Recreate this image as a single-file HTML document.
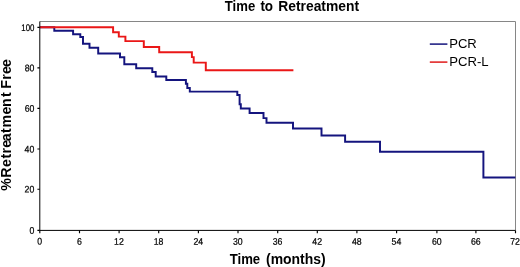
<!DOCTYPE html>
<html>
<head>
<meta charset="utf-8">
<title>Time to Retreatment</title>
<style>
html,body{margin:0;padding:0;background:#fff;}
body{width:520px;height:267px;overflow:hidden;}
svg{display:block;}
text{font-family:"Liberation Sans",Arial,sans-serif;fill:#000;}
.b{font-weight:bold;}
.t{font-size:9.6px;stroke:#000;stroke-width:0.22px;}
</style>
</head>
<body>
<svg width="520" height="267" viewBox="0 0 520 267">
<rect width="520" height="267" fill="#fff"/>
<!-- frame -->
<path d="M39.8 21.5H515.5V230.4" fill="none" stroke="#868686" stroke-width="1"/>
<!-- curves -->
<path id="blue" d="M40 27.2H54.3V30.8H73.1V34.2H80.3V36.9H83V43.8H89.5V47.7H98.2V53.5H120V57.2H124.3V64.2H136.2V68.2H152.3V72H155.7V76.4H166.3V80H185.9V83.8H187.3V87.9H189.8V91.6H237.3V95H239.6V104.2H240.8V108.4H249.6V113H263.5V118.1H266.5V122.7H293V128.5H321.5V135.4H345.1V141.8H380V151.7H483.4V177.4H515.4" fill="none" stroke="#14147e" stroke-width="1.95"/>
<path id="red" d="M40 27.2H113.1V32.3H118.8V36.6H125.4V41.1H143.8V46.9H159.2V52.3H191.9V57.1H193.7V62.6H205.8V70.3H293.4" fill="none" stroke="#ea1717" stroke-width="1.95"/>
<!-- axes -->
<path d="M39.8 21.5V230.4H515.6" fill="none" stroke="#000" stroke-width="1"/>
<g stroke="#000" stroke-width="1.15">
<path d="M37.4 27.4H39.8M37.4 67.8H39.8M37.4 108.3H39.8M37.4 149H39.8M37.4 189.2H39.8M37.4 230.4H39.8"/>
<path d="M39.8 230.4V233.2M79.5 230.4V233.2M119.1 230.4V233.2M158.7 230.4V233.2M198.4 230.4V233.2M238 230.4V233.2M277.7 230.4V233.2M317.3 230.4V233.2M356.9 230.4V233.2M396.6 230.4V233.2M436.9 230.4V233.2M475.9 230.4V233.2M515.5 230.4V233.2"/>
</g>
<!-- y tick labels -->
<g class="t" text-anchor="end" transform="rotate(0.03) scale(0.91 1)">
<text x="37.8" y="30.8" textLength="14.4" lengthAdjust="spacingAndGlyphs">100</text>
<text x="37.8" y="71.2">80</text>
<text x="37.8" y="111.7">60</text>
<text x="37.8" y="152.4">40</text>
<text x="37.8" y="192.6">20</text>
<text x="37.8" y="233.8">0</text>
</g>
<!-- x tick labels -->
<g class="t" text-anchor="middle" transform="rotate(0.03) scale(0.91 1)">
<text x="43.7" y="244.6">0</text>
<text x="87.4" y="244.6">6</text>
<text x="130.8" y="244.6">12</text>
<text x="174.4" y="244.6">18</text>
<text x="218.0" y="244.6">24</text>
<text x="261.5" y="244.6">30</text>
<text x="305.2" y="244.6">36</text>
<text x="348.7" y="244.6">42</text>
<text x="392.2" y="244.6">48</text>
<text x="435.8" y="244.6">54</text>
<text x="480.1" y="244.6">60</text>
<text x="523.0" y="244.6">66</text>
<text x="566.2" y="244.6">72</text>
</g>
<!-- titles -->
<text class="b" font-size="14.4" y="10.9"><tspan x="224.8" textLength="30.4" lengthAdjust="spacingAndGlyphs">Time</tspan> <tspan x="260.4" textLength="12.7" lengthAdjust="spacingAndGlyphs">to</tspan> <tspan x="278.2" textLength="80.9" lengthAdjust="spacingAndGlyphs">Retreatment</tspan></text>
<text class="b" font-size="14.4" y="263.7"><tspan x="229.7" textLength="30.5" lengthAdjust="spacingAndGlyphs">Time</tspan> <tspan x="266" textLength="59.7" lengthAdjust="spacingAndGlyphs">(months)</tspan></text>
<text class="b" transform="translate(11.1 190.7) rotate(-90)" font-size="14.2" x="0.0 12.9 23.7 32.1 37.2 43.0 49.5 57.6 63.1 76.1 83.8 93.7 97.9 102.0 110.9 116.6 123.6">%Retreatment Free</text>
<!-- legend -->
<path d="M429.8 44.1H447.4" stroke="#14147c" stroke-width="1.5"/>
<path d="M429.8 62.1H447.4" stroke="#e01a1a" stroke-width="1.5"/>
<text x="449.2" y="48.4" font-size="13.3" textLength="27.6" lengthAdjust="spacingAndGlyphs">PCR</text>
<text x="449.2" y="66.4" font-size="13.3" textLength="39.4" lengthAdjust="spacingAndGlyphs">PCR-L</text>
</svg>
</body>
</html>
